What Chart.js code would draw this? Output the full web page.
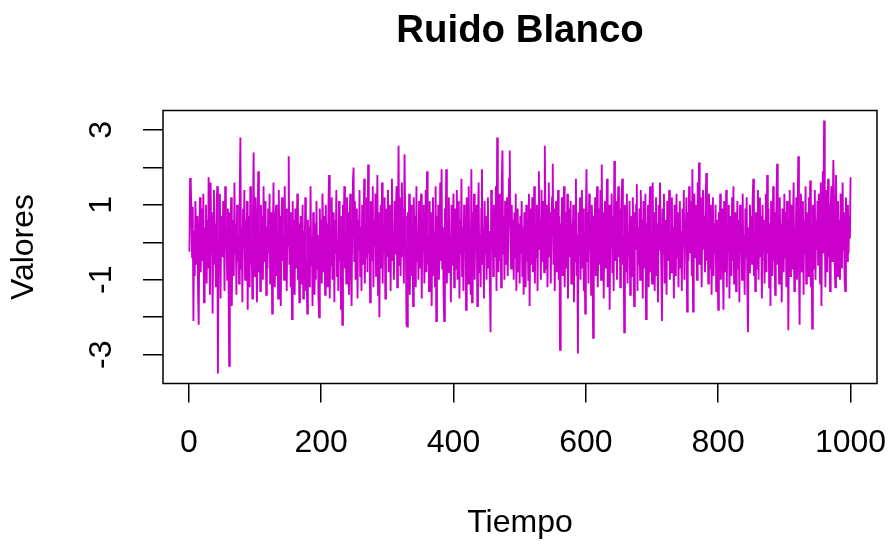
<!DOCTYPE html>
<html>
<head>
<meta charset="utf-8">
<script src="https://cdn.jsdelivr.net/npm/chart.js@4.4.1/dist/chart.umd.min.js"></script>
<style>
  html, body { margin: 0; padding: 0; background: #fff; }
  canvas { display: block; }
</style>
</head>
<body>
<canvas id="c" width="888" height="542"></canvas>
<script>
// Serie de ruido blanco: 1000 observaciones, t = 1..1000
const valores = [
  -0.25, 1.72, 1.55, 0.8, -0.4, 0.95, -2.1, 0.3, -0.9, 1.1,
  0.2, -0.6, 0.7, -1.3, -2.2, 0.5, 1.2, -0.8, 0.1, 0.9,
  -0.5, 1.3, -1.6, 0.4, -0.2, 1.0, -1.1, 0.6, -0.7, 1.74,
  0.3, -1.4, 1.6, -0.3, 0.8, -1.9, 0.2, 1.4, -0.6, 0.5,
  -1.2, 0.9, 1.5, -3.5, 0.1, -0.8, 1.3, -1.5, 0.7, 0.0,
  -0.4, 1.1, 0.6, -1.3, 1.5, -0.2, 0.4, -1.0, 0.9, -0.6,
  -3.3, 0.8, -0.1, 1.2, -1.7, 0.3, 0.6, -0.9, 1.6, -0.3,
  0.5, -1.4, 1.0, -0.5, 0.2, -1.1, 1.3, 2.8, -0.7, 0.4,
  -1.6, 0.9, -0.2, 1.4, -1.0, 0.6, -0.4, 1.1, -1.8, 0.3,
  0.7, -1.2, 1.5, -0.6, 0.1, -1.5, 0.8, 2.4, -0.9, 0.2,
  1.2, -0.4, -1.6, 0.6, 1.9, -0.8, 0.3, -1.3, 1.0, -0.1,
  0.7, -1.0, 1.5, -0.5, 0.2, 1.1, -1.4, 0.4, -0.7, 0.9,
  -0.3, 1.3, -1.1, 0.5, 0.8, -1.9, 0.1, 1.6, -0.6, -1.2,
  0.6, 1.0, -0.9, 0.3, -1.5, 1.4, -0.2, 0.7, -1.7, 0.4,
  1.2, -0.5, 0.2, -1.0, 1.5, -0.8, 0.9, -1.3, 0.5, -0.1,
  2.3, -0.6, 0.8, -1.2, 0.4, -2.05, 1.1, -0.3, 0.6, -1.4,
  0.9, -0.7, 0.2, 1.3, -1.0, 0.5, -1.6, -0.2, 0.7, -1.1,
  -0.4, 1.0, -1.5, 0.3, -0.8, 1.2, -1.3, -0.5, -1.9, 0.6,
  -0.9, 0.4, -1.2, 1.5, -0.6, 0.1, -1.7, 0.8, -0.3, -1.4,
  0.5, -1.0, 1.1, -0.7, 0.2, -1.5, -2.0, 0.9, -0.4, 0.6,
  -1.1, 1.3, 0.3, -0.8, 0.7, -1.4, 1.0, -0.2, 0.5, -1.2,
  0.9, 1.8, -1.5, 0.4, -0.6, 1.2, -1.0, 0.2, 0.8, -1.6,
  0.6, -0.3, 1.4, -0.9, 0.1, -1.3, 1.1, -0.5, 0.7, -1.8,
  0.4, -2.2, 1.0, -0.4, 1.5, -0.7, 0.3, -1.1, 1.2, -0.2,
  0.8, -1.4, 0.5, 1.3, -0.8, -1.7, 0.6, 1.6, 2.0, -0.5,
  1.1, -1.0, 0.3, 0.9, -1.5, 0.6, -0.2, 1.4, -0.9, 0.4,
  -1.3, 1.0, 0.1, -0.6, 1.7, -1.1, 0.5, -0.4, 1.2, -0.8,
  2.08, -0.3, 0.7, -1.6, 1.1, -0.5, 0.2, 1.5, -1.2, 0.6,
  -0.1, 1.3, -0.9, 0.4, 1.8, -1.4, 0.8, -2.0, 0.3, 1.0,
  -0.7, 1.6, -1.1, 0.5, -0.2, 1.2, -1.5, 0.9, -0.4, 0.7,
  1.4, -0.8, 0.2, 1.0, -1.3, 0.6, 1.7, -0.5, 0.3, -1.0,
  1.1, -0.3, 0.8, 1.5, -1.2, 0.4, 2.58, -0.6, 1.2, -0.9,
  0.5, 1.6, -0.4, 0.9, -1.1, 2.35, 0.7, 0.1, -2.2, -2.25,
  0.8, -0.6, 1.3, -1.4, 0.2, 1.0, -0.9, 0.5, -1.7, 1.2,
  -0.3, 0.7, -1.2, 1.5, -0.5, 0.3, -1.0, 1.1, -0.7, 0.4,
  1.3, -1.5, 0.6, -0.2, 1.0, -1.1, 0.4, 1.4, -0.8, 1.9,
  -0.6, 0.2, -1.3, 1.1, -0.4, 0.8, -1.7, 0.5, 1.2, -0.9,
  0.3, -1.2, 1.5, -2.1, 0.7, -0.3, 1.0, -1.0, 0.1, 1.6,
  -0.5, 1.95, -0.7, 0.4, -1.4, -2.1, 0.9, -0.2, 1.95, -1.1,
  0.6, -0.8, 1.2, -0.4, 0.2, -1.6, 1.0, -0.6, 0.5, 1.3,
  -1.2, 0.3, 0.9, -0.7, 1.4, -1.0, 0.1, 1.1, -1.5, 0.6,
  -0.3, 1.7, -0.9, 0.4, -1.3, 1.0, -0.2, 0.7, -1.8, 1.2,
  0.0, -1.1, 1.5, -0.5, 0.3, -1.4, 1.95, -1.6, 0.8, -0.4,
  1.3, -1.0, 0.6, -0.2, 1.0, -1.7, 0.5, 1.6, -0.8, 0.2,
  -1.2, 0.9, 1.95, -0.6, 0.4, -1.5, 1.1, -0.3, 0.7, -1.0,
  0.5, 1.2, -0.7, 0.3, -1.1, -2.4, 1.4, -0.2, 0.8, -0.9,
  1.0, -0.4, 0.6, 1.5, -1.3, 2.8, 0.2, -0.8, 1.3, -0.5,
  0.9, -1.2, 1.6, 2.45, -0.3, 0.7, -1.0, 1.1, 0.4, -0.6,
  1.2, -0.9, 0.5, 1.7, 2.45, 0.3, -0.7, 1.0, -0.2, 0.6,
  -1.0, 0.8, -0.4, 1.3, -1.3, 0.2, 0.9, -0.8, 0.5, -1.1,
  0.7, -0.3, 1.1, -0.9, 0.4, -1.4, 0.8, 0.1, -1.2, 1.0,
  -0.5, 0.6, -1.0, 1.3, -1.7, 0.2, 0.9, -0.6, 1.2, -0.8,
  0.3, 1.5, -1.1, 0.5, -0.4, 1.0, -1.3, 0.7, 1.9, -0.2,
  0.6, -1.0, 1.4, -0.5, 0.2, 1.1, -0.8, 2.58, 0.4, -0.7,
  1.0, -1.2, 0.3, 1.6, -0.4, 0.8, -1.1, 0.5, 1.2, 2.1,
  -0.6, 0.9, -1.3, 0.4, 1.1, -0.8, 0.2, 1.4, -1.0, 0.7,
  -2.87, 0.5, -0.3, 1.2, -0.9, 0.6, 1.5, -1.2, 0.1, 0.8,
  -0.7, 1.3, -1.5, 0.3, 0.9, -0.4, 1.1, -1.1, 0.5, -0.2,
  1.0, -1.6, 0.6, -0.5, 1.7, -0.9, 0.2, -2.97, 0.8, -0.3,
  1.2, -1.0, 0.4, 1.4, -0.7, 0.9, -1.3, 0.3, -1.9, 0.6,
  1.95, -0.5, 0.8, -1.1, 1.3, -0.2, 0.6, -1.4, 1.0, 0.3,
  -2.55, 0.7, -0.4, 1.2, -0.9, 0.5, 1.5, -1.2, 0.1, 0.9,
  -0.6, 1.4, -1.0, 2.08, -0.3, 0.8, -1.5, 0.4, 1.1, -0.7,
  0.6, 1.7, -1.2, 0.2, 1.0, -1.8, 0.5, -0.1, 1.3, -0.8,
  0.7, -1.3, 2.17, 0.3, -0.5, 1.1, -1.0, 0.6, 1.5, -0.4,
  0.9, -1.2, 0.4, 1.2, 1.7, -0.6, 0.2, -2.4, 1.0, -0.8,
  0.5, 1.3, -1.1, 0.3, -0.4, 1.1, -1.4, 0.7, 0.1, -0.9,
  1.2, -0.5, -1.7, 0.8, -0.2, 1.0, 1.55, -1.3, 0.4, -0.6,
  0.9, -1.0, 1.4, -0.3, 0.6, -1.5, 1.1, 0.2, -0.7, 1.3,
  -2.05, 0.5, -0.1, 1.0, -1.2, 0.7, 1.5, -0.8, 0.3, -1.1,
  1.6, -0.4, 0.8, -1.3, 0.2, 1.2, -0.9, 0.5, -1.6, 1.0,
  -0.2, 1.6, 0.4, -0.7, -2.1, 0.9, -0.3, 1.3, -1.1, 0.6,
  0.1, -1.4, 1.1, -0.5, 0.7, 1.4, -1.0, 0.3, -0.8, 1.2,
  -0.6, 0.4, -1.5, 1.0, 0.2, -0.9, 1.3, -0.4, 0.8, -1.2,
  0.5, 1.1, -0.7, 0.3, -1.3, 0.9, -0.1, 1.4, -1.0, 0.6,
  0.2, 1.2, -1.85, 0.8, -0.5, 1.5, -0.3, 0.6, 1.1, -0.9,
  1.95, -1.85, 0.7, 1.3, -0.4, 1.0, 0.3, -1.0, 1.6, 0.5,
  2.13, -0.6, 1.2, 0.4, -1.2, 0.9, 1.4, -0.2, 0.7, -0.8,
  1.1, 1.85, -0.5, 0.6, -1.1, 1.3, 0.2, -0.7, 1.0, -1.4,
  0.4, 1.2, -0.9, 0.5, -0.3, 1.0, -1.3, 0.6, 0.1, -1.8,
  0.8, -0.4, 1.3, -1.0, 0.3, 0.9, -0.6, -1.8, 1.1, 0.2,
  -0.8, 1.4, -1.2, 0.5, -0.2, 1.0, -1.5, 0.7, 0.3, -0.9,
  1.2, -0.5, 1.5, -1.1, 0.4, 0.8, -1.3, 0.1, 1.1, -0.7,
  0.6, -1.6, 1.0, -0.3, 0.5, -1.0, 1.3, -0.6, 0.2, -1.4,
  0.9, -0.4, 1.2, -1.2, -2.4, 0.4, -0.8, 1.0, -0.1, 0.7,
  -0.6, 1.1, 1.7, -0.9, 0.3, -1.3, 0.8, 0.2, -0.7, 1.4,
  -1.0, 0.5, 1.2, -0.4, 0.7, -1.5, 1.0, -0.2, 0.6, -1.1,
  0.4, 1.3, -0.8, 1.8, -0.3, 0.9, -1.2, 0.5, -1.7, 1.1,
  0.1, -0.9, 1.5, -0.5, 0.8, -1.4, 0.3, 1.0, 2.1, -0.6,
  0.7, -1.1, 1.2, -0.3, 0.5, -1.6, 0.9, 0.2, -0.8, 1.3,
  -0.4, 0.8, -1.2, 1.1, 0.3, -2.35, 0.6, 1.4, -0.9, 0.2,
  1.0, -0.7, 0.5, 1.6, -1.3, 0.4, -0.2, 1.2, -1.0, 0.7,
  2.3, -0.5, -2.2, 0.9, 1.3, -0.8, 0.3, 1.1, -1.4, 0.6,
  -0.3, 1.5, -1.1, 0.8, 0.1, -0.9, 1.2, -0.4, 1.65, -1.2,
  0.5, -2.3, 1.0, 0.3, -0.7, 1.4, -1.0, 0.6, -0.2, 1.1,
  -0.6, 1.3, 0.4, -1.1, 1.6, -1.7, 0.8, 1.9, -0.3, 3.25,
  0.5, -1.2, 1.4, 0.2, -0.8, 1.7, -0.4, 1.0, -1.3, 0.9,
  1.5, -0.5, 0.7, 2.2, 1.2, -0.6, -1.2, 1.8, 0.3, -0.9,
  1.1, -0.4, 0.6, -1.0, 1.3, 0.2, -0.7, 1.6, -0.2, 0.8,
  -1.0, -1.3, 1.2, 0.4, -0.5, 1.0, -0.3, 0.7, 0.1, 1.74
];

// Marcas de los ejes
const ticksTiempo = [0, 200, 400, 600, 800, 1000];
const ticksValores = [-3, -2, -1, 0, 1, 2, 3];
const etiquetasValores = [-3, -1, 1, 3];
const titulo = 'Ruido Blanco';

// Rango de los ejes con la extensión del 4 % típica de R
const n = valores.length;
const yMin = Math.min(...valores), yMax = Math.max(...valores);
const dx = (n - 1) * 0.04, dy = (yMax - yMin) * 0.04;

const FONT = '"Liberation Sans", Arial, sans-serif';
const TAM = 32;                 // tamaño base del texto
const COLOR_SERIE = '#CC00CC';

// Fondo, marco, título centrado sobre el área de trazado y etiquetas verticales del eje Y
const marco = {
  id: 'marco',
  beforeDraw(chart) {
    const { ctx, width, height } = chart;
    ctx.save();
    ctx.fillStyle = '#fff';
    ctx.fillRect(0, 0, width, height);
    ctx.restore();
  },
  afterDraw(chart) {
    const { ctx, chartArea: a, scales } = chart;
    ctx.save();
    ctx.strokeStyle = '#000';
    ctx.lineWidth = 1.5;
    ctx.strokeRect(a.left, a.top, a.right - a.left, a.bottom - a.top);
    ctx.fillStyle = '#000';
    ctx.textAlign = 'center';
    ctx.textBaseline = 'middle';

    ctx.font = 'bold ' + (TAM * 1.2) + 'px ' + FONT;
    ctx.fillText(titulo, (a.left + a.right) / 2, 31);

    ctx.font = TAM + 'px ' + FONT;
    etiquetasValores.forEach(v => {
      const py = scales.y.getPixelForValue(v);
      ctx.save();
      ctx.translate(a.left - 61, py);
      ctx.rotate(-Math.PI / 2);
      ctx.fillText(String(v), 0, 0);
      ctx.restore();
    });
    ctx.restore();
  }
};

new Chart(document.getElementById('c'), {
  type: 'line',
  data: {
    datasets: [{
      data: valores.map((v, i) => ({ x: i + 1, y: v })),
      borderColor: COLOR_SERIE,
      borderWidth: 1.9,
      pointRadius: 0,
      tension: 0,
      fill: false
    }]
  },
  options: {
    responsive: false,
    animation: false,
    devicePixelRatio: 1,
    layout: { padding: { left: 0, right: 11, top: 110.5, bottom: 0 }, autoPadding: false },
    plugins: {
      legend: { display: false },
      tooltip: { enabled: false },
      title: { display: false }
    },
    scales: {
      x: {
        type: 'linear',
        position: 'bottom',
        min: 1 - dx,
        max: n + dx,
        afterBuildTicks: s => { s.ticks = ticksTiempo.map(v => ({ value: v })); },
        afterFit: s => { s.height = 158.5; s.paddingLeft = 0; s.paddingRight = 0; },
        grid: { display: true, drawOnChartArea: false, drawTicks: true, tickLength: 19, color: '#000', lineWidth: 1.5 },
        border: { display: false },
        ticks: { color: '#000', font: { family: FONT, size: TAM }, padding: 21, maxRotation: 0, autoSkip: false, callback: v => String(v) },
        title: { display: true, text: 'Tiempo', color: '#000', font: { family: FONT, size: TAM }, padding: { top: 0, bottom: 0 } }
      },
      y: {
        type: 'linear',
        position: 'left',
        min: yMin - dy,
        max: yMax + dy,
        afterBuildTicks: s => { s.ticks = ticksValores.map(v => ({ value: v })); },
        afterFit: s => { s.width = 163; s.paddingTop = 0; s.paddingBottom = 0; },
        grid: { display: true, drawOnChartArea: false, drawTicks: true, tickLength: 20, color: '#000', lineWidth: 1.5 },
        border: { display: false },
        ticks: { display: false },
        title: { display: true, text: 'Valores', color: '#000', font: { family: FONT, size: TAM }, padding: { top: 4.8, bottom: 0 } }
      }
    }
  },
  plugins: [marco]
});
</script>
</body>
</html>
